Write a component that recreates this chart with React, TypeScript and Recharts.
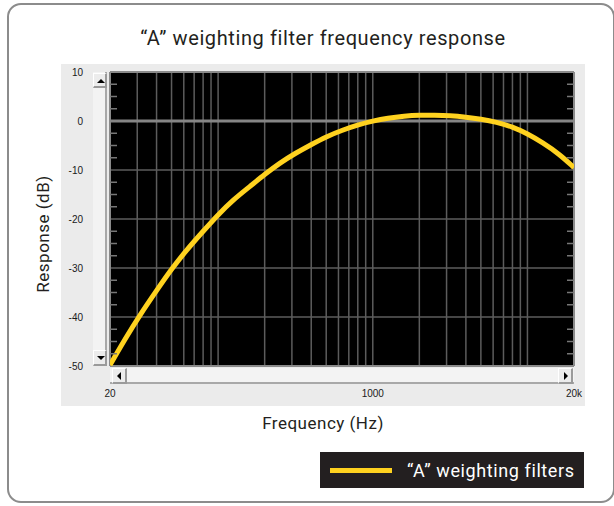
import { LineChart, Line, XAxis, YAxis, CartesianGrid, ReferenceLine, Legend } from 'recharts';

// 1/3-octave frequencies (Hz) and response (dB)
const frequencies = [
  20, 25, 31.5, 40, 50, 63, 80, 100, 125, 160, 200, 250, 315, 400, 500, 630, 800, 1000, 1250, 1600, 2000, 2500,
  3150, 4000, 5000, 6300, 8000, 10000, 12500, 16000, 20000,
];
const responseDb = [
  -49.8, -44.5, -39.4, -34.6, -30.2, -26.2, -22.5, -19.1, -16.1, -13.4, -10.9, -8.6, -6.6, -4.8, -3.2, -1.9, -0.8,
  0, 0.6, 1.0, 1.2, 1.2, 1.1, 0.8, 0.4, -0.2, -1.2, -2.6, -4.4, -6.7, -9.5,
];

const xTicks = [20, 1000, 20000];
const xTickLabels = ['20', '1000', '20k'];
const gridFreqs = [
  30, 40, 50, 60, 70, 80, 90, 100, 200, 300, 400, 500, 600, 700, 800, 900, 1000, 2000, 3000, 4000, 5000, 6000, 7000,
  8000, 9000, 10000,
];
const yMajor = [10, 0, -10, -20, -30, -40, -50];
const yTicks = [
  10, 7.5, 5, 2.5, 0, -2.5, -5, -7.5, -10, -12.5, -15, -17.5, -20, -22.5, -25, -27.5, -30, -32.5, -35, -37.5, -40,
  -42.5, -45, -47.5, -50,
];

const seriesName = '\u201CA\u201D weighting filters';
const data = frequencies.map((f, i) => ({ f, db: responseDb[i] }));

const YELLOW = '#FFD21F';
const GRID = '#5c5c5c';
const TICK_GAP = 27;
const sans = 'Roboto, "Liberation Sans", Arial, sans-serif';

const LeftTick = (props: any) => {
  const { x, y, payload } = props;
  const v = payload.value;
  const major = yMajor.includes(v);
  return (
    <g>
      {major ? (
        <text x={x} y={y} dy={3.5} textAnchor="end" fontSize={10} fill="#1a1a1a" fontFamily='"Liberation Sans", Arial'>
          {v}
        </text>
      ) : (
        <line x1={x + TICK_GAP} x2={x + TICK_GAP + 7} y1={y} y2={y} stroke="#777" strokeWidth={1.5} />
      )}
    </g>
  );
};

const RightTick = (props: any) => {
  const { x, y, payload } = props;
  if (yMajor.includes(payload.value)) return <g />;
  return <line x1={x - 7} x2={x} y1={y} y2={y} stroke="#777" strokeWidth={1.5} />;
};

const button = (left: number, top: number, w: number, h: number, arrow: 'up' | 'down' | 'left' | 'right') => {
  const tri: any = { position: 'absolute', width: 0, height: 0 };
  if (arrow === 'up') Object.assign(tri, { left: 3, top: 5, borderLeft: '4px solid transparent', borderRight: '4px solid transparent', borderBottom: '4px solid #000' });
  if (arrow === 'down') Object.assign(tri, { left: 3, top: 5, borderLeft: '4px solid transparent', borderRight: '4px solid transparent', borderTop: '4px solid #000' });
  if (arrow === 'left') Object.assign(tri, { left: 4, top: 3, borderTop: '4px solid transparent', borderBottom: '4px solid transparent', borderRight: '4px solid #000' });
  if (arrow === 'right') Object.assign(tri, { left: 5, top: 3, borderTop: '4px solid transparent', borderBottom: '4px solid transparent', borderLeft: '4px solid #000' });
  return (
    <div
      style={{
        position: 'absolute',
        left,
        top,
        width: w,
        height: h,
        boxSizing: 'border-box',
        background: '#ececec',
        borderTop: '1px solid #fff',
        borderLeft: '1px solid #fff',
        borderRight: '2px solid #9a9a9a',
        borderBottom: '2px solid #9a9a9a',
      }}
    >
      <div style={tri} />
    </div>
  );
};

export default function App() {
  return (
    <div style={{ position: 'absolute', left: 0, top: 0, width: 614, height: 506, background: '#fff', fontFamily: sans }}>
      {/* outer frame */}
      <div
        style={{
          position: 'absolute',
          left: 7,
          top: 3,
          width: 608,
          height: 500,
          boxSizing: 'border-box',
          border: '2px solid #8c8c8c',
          borderRadius: 14,
        }}
      />
      <div
        style={{
          position: 'absolute',
          left: 0,
          width: 646,
          top: 26,
          textAlign: 'center',
          fontSize: 20,
          letterSpacing: 0.6,
          color: '#231f20',
        }}
      >
        {'\u201CA\u201D weighting filter frequency response'}
      </div>

      {/* gray instrument panel */}
      <div style={{ position: 'absolute', left: 61, top: 64, width: 524, height: 342, background: '#ebebeb' }} />
      {/* vertical scrollbar */}
      <div
        style={{
          position: 'absolute',
          left: 93,
          top: 72,
          width: 14,
          height: 294,
          boxSizing: 'border-box',
          background: '#f3f3f3',
          borderRight: '2px solid #a8a8a8',
        }}
      />
      {button(93, 73, 14, 15, 'up')}
      {button(93, 350, 14, 16, 'down')}
      {/* horizontal scrollbar */}
      <div
        style={{
          position: 'absolute',
          left: 110,
          top: 368,
          width: 464,
          height: 16,
          boxSizing: 'border-box',
          background: '#f3f3f3',
          borderBottom: '2px solid #a8a8a8',
        }}
      />
      {button(112, 368, 15, 16, 'left')}
      {button(558, 368, 15, 16, 'right')}

      <div style={{ position: 'absolute', left: 0, top: 0 }}>
        <LineChart width={614} height={506} data={data} margin={{ top: 72, right: 30, bottom: 110, left: 60 }}>
          <CartesianGrid horizontal={false} vertical={false} fill="#000" fillOpacity={1} />
          <XAxis
            dataKey="f"
            type="number"
            scale="log"
            domain={[20, 20000]}
            allowDataOverflow
            ticks={xTicks}
            interval={0}
            tickFormatter={(v: number) => xTickLabels[xTicks.indexOf(v)] ?? ''}
            axisLine={false}
            tickLine={false}
            tickSize={0}
            tickMargin={24}
            height={30}
            tick={{ fontSize: 10, fill: '#1a1a1a', fontFamily: '"Liberation Sans", Arial' }}
          />
          <YAxis
            yAxisId="left"
            type="number"
            domain={[-50, 10]}
            allowDataOverflow
            ticks={yTicks}
            interval={0}
            width={50}
            axisLine={false}
            tickLine={false}
            tickSize={0}
            tickMargin={TICK_GAP}
            tick={LeftTick}
          />
          <YAxis
            yAxisId="right"
            orientation="right"
            type="number"
            domain={[-50, 10]}
            allowDataOverflow
            ticks={yTicks}
            interval={0}
            width={10}
            axisLine={false}
            tickLine={false}
            tickSize={0}
            tickMargin={0}
            tick={RightTick}
          />
          {gridFreqs.map((f) => (
            <ReferenceLine key={'v' + f} x={f} yAxisId="left" stroke={GRID} strokeWidth={1.5} zIndex={-50} />
          ))}
          {yMajor
            .filter((v) => v !== 0 && v !== 10 && v !== -50)
            .map((v) => (
              <ReferenceLine key={'h' + v} y={v} yAxisId="left" stroke={GRID} strokeWidth={1.5} zIndex={-50} />
            ))}
          <ReferenceLine y={0} yAxisId="left" stroke="#858585" strokeWidth={3} zIndex={-40} />
          {/* plot frame */}
          <ReferenceLine y={10} yAxisId="left" stroke="#8a8a8a" strokeWidth={2} zIndex={-40} />
          <ReferenceLine y={-50} yAxisId="left" stroke="#8a8a8a" strokeWidth={2} zIndex={-40} />
          <ReferenceLine x={20} yAxisId="left" stroke="#8a8a8a" strokeWidth={2} zIndex={-40} />
          <ReferenceLine x={20000} yAxisId="left" stroke="#8a8a8a" strokeWidth={2} zIndex={-40} />
          <Line
            yAxisId="left"
            type="basis"
            dataKey="db"
            name={seriesName}
            stroke={YELLOW}
            strokeWidth={5}
            dot={false}
            activeDot={false}
            isAnimationActive={false}
          />
          <Legend
            layout="horizontal"
            verticalAlign="middle"
            align="center"
            wrapperStyle={{ top: 452, left: 320, width: 264, height: 36, margin: 0 }}
            content={(props: any) => {
              const item = props.payload?.[0];
              return (
                <div
                  style={{
                    width: 264,
                    height: 36,
                    background: '#231f20',
                    display: 'flex',
                    alignItems: 'center',
                    boxSizing: 'border-box',
                    paddingLeft: 10,
                  }}
                >
                  <div style={{ width: 62, height: 5, background: item?.color ?? YELLOW }} />
                  <span style={{ marginLeft: 15, color: '#fff', fontSize: 18, letterSpacing: 0.6, fontFamily: sans }}>
                    {item?.value}
                  </span>
                </div>
              );
            }}
          />
        </LineChart>
      </div>

      <div
        style={{
          position: 'absolute',
          left: 0,
          width: 646,
          top: 413,
          textAlign: 'center',
          fontSize: 17,
          letterSpacing: 0.5,
          color: '#231f20',
        }}
      >
        Frequency (Hz)
      </div>
      <div
        style={{
          position: 'absolute',
          left: 43,
          top: 234,
          transform: 'translate(-50%, -50%) rotate(-90deg)',
          whiteSpace: 'nowrap',
          fontSize: 17,
          letterSpacing: 0.5,
          color: '#231f20',
        }}
      >
        Response (dB)
      </div>
    </div>
  );
}
